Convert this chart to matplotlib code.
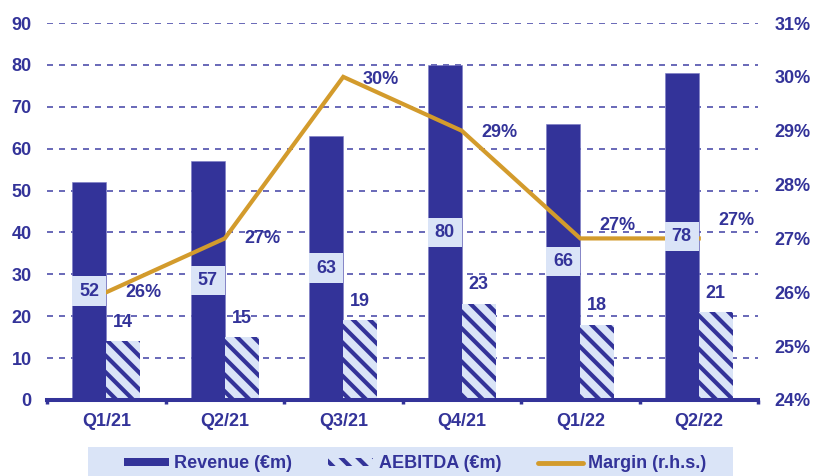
import matplotlib
matplotlib.use('Agg')
import matplotlib.pyplot as plt
import numpy as np
from matplotlib.patches import Patch, Rectangle
from matplotlib.lines import Line2D

# data
quarters = ['Q1/21', 'Q2/21', 'Q3/21', 'Q4/21', 'Q1/22', 'Q2/22']
revenue = [52, 57, 63, 80, 66, 78]
aebitda = [14, 15, 19, 23, 18, 21]
margin = [26, 27, 30, 29, 27, 27]
left_ticks = [0, 10, 20, 30, 40, 50, 60, 70, 80, 90]
right_ticks = [24, 25, 26, 27, 28, 29, 30, 31]

# styles
DARK = '#333399'
LIGHT = '#dae4f7'
GOLD = '#d39b2c'
GRID = '#4f4fab'
BOX_H = 7  # height of the revenue label boxes, left-axis units
# offsets (points) of the margin labels from their points
margin_label_dy = [0, 0, -2, -1, 9, 13]

plt.rcParams['font.family'] = ['Liberation Sans', 'DejaVu Sans']
plt.rcParams['font.weight'] = 'bold'
plt.rcParams['font.size'] = 13
plt.rcParams['hatch.linewidth'] = 3.0
plt.rcParams['hatch.color'] = DARK

fig = plt.figure(figsize=(8.13, 4.76), dpi=100)
ax = fig.add_axes([47 / 813, 1 - 400 / 476, 711 / 813, 377 / 476])
ax2 = ax.twinx()

x = np.arange(len(quarters))
w = 0.287

ax.bar(x - w / 2, revenue, w, color=DARK, edgecolor='#7a7ac4', linewidth=0.4, zorder=3)
ax.bar(x + w / 2, aebitda, w, facecolor=LIGHT, edgecolor=DARK, linewidth=0,
       hatch='\\\\', zorder=3)

ax.set_xlim(-0.5, len(quarters) - 0.5)
ax.set_ylim(0, 90)
ax.set_yticks(left_ticks)
ax.yaxis.grid(True, color=GRID, linewidth=1.2, linestyle=(0, (3.6, 3.6)))
ax.set_axisbelow(True)
for s in ['left', 'right', 'top']:
    ax.spines[s].set_visible(False)
ax.spines['bottom'].set_color(DARK)
ax.spines['bottom'].set_linewidth(2.9)
ax.spines['bottom'].set_zorder(5)

ax.set_xticks(x)
ax.set_xticklabels(quarters)
ax.set_xticks(np.arange(len(quarters) + 1) - 0.5, minor=True)
ax.tick_params(axis='x', which='major', length=0, pad=9, colors=DARK)
ax.tick_params(axis='x', which='minor', length=3, width=2.5, color=DARK, direction='out')
ax.tick_params(axis='y', length=0, pad=11, colors=DARK)

# AEBITDA labels above bars
for xi, v in zip(x, aebitda):
    ax.annotate(str(v), (xi + w / 2, v), xytext=(0, 13.5), textcoords='offset points',
                ha='center', va='center', color=DARK)

# margin line on right axis
ax2.plot(x, margin, color=GOLD, linewidth=3, solid_joinstyle='miter', zorder=3)
ax2.set_ylim(24, 31)
ax2.set_yticks(right_ticks)
ax2.set_yticklabels(['{}%'.format(t) for t in right_ticks])
ax2.tick_params(axis='y', length=0, pad=12, colors=DARK)
for s in ['left', 'right', 'top', 'bottom']:
    ax2.spines[s].set_visible(False)

for xi, m, dy in zip(x, margin, margin_label_dy):
    ax2.annotate('{}%'.format(m), (xi, m), xytext=(27, dy), textcoords='offset points',
                 ha='center', va='center', color=DARK, zorder=6)

# revenue labels in boxes as wide as the bar, drawn above the margin line
for xi, v in zip(x, revenue):
    ax2.add_patch(Rectangle((xi - w, v / 2 - BOX_H / 2), w, BOX_H, transform=ax.transData,
                            facecolor=LIGHT, edgecolor='none', zorder=7))
    ax2.text(xi - w / 2, v / 2, str(v), transform=ax.transData, ha='center', va='center',
             color=DARK, zorder=8)

# legend band
fig.patches.append(Rectangle((88 / 813, 0), (733 - 88) / 813, 29 / 476,
                             transform=fig.transFigure, facecolor=LIGHT, edgecolor='none',
                             zorder=0))
handles = [Patch(facecolor=DARK, edgecolor='none'),
           Patch(facecolor=LIGHT, edgecolor=DARK, linewidth=0, hatch='\\\\'),
           Line2D([], [], color=GOLD, linewidth=3.5, solid_capstyle='round')]
labels = ['Revenue (€m)', 'AEBITDA (€m)', 'Margin (r.h.s.)']
leg = fig.legend(handles, labels, loc='center', bbox_to_anchor=(415 / 813, 1 - 464 / 476),
                 ncol=3, frameon=False, handlelength=2.5, handleheight=0.35,
                 handletextpad=0.3, columnspacing=2.0, fontsize=13)
for t in leg.get_texts():
    t.set_color(DARK)

fig.savefig('out.png', dpi=100)
